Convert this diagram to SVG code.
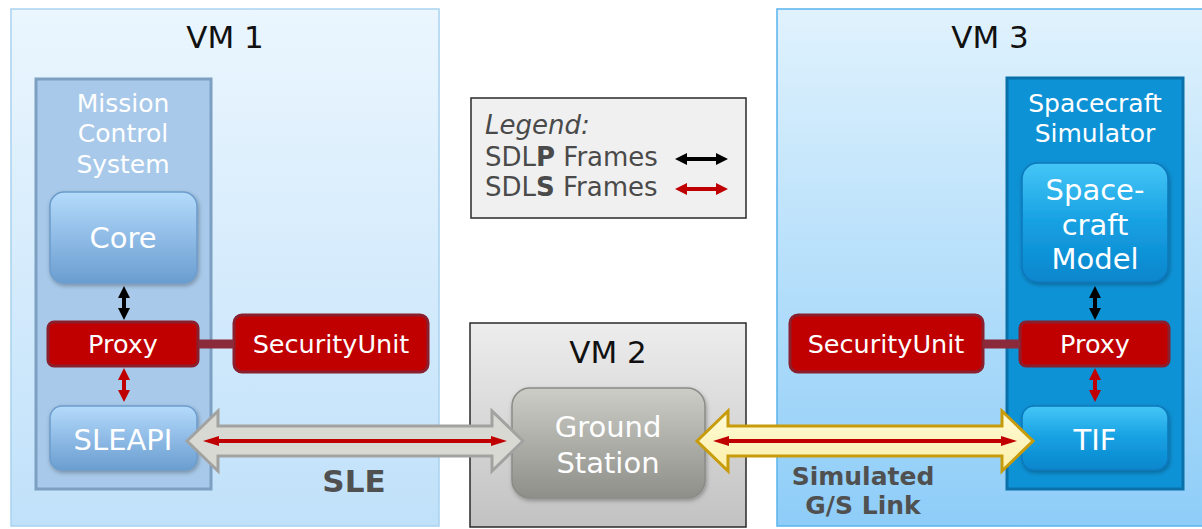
<svg xmlns="http://www.w3.org/2000/svg" width="1202" height="529" viewBox="0 0 1202 529">
  <defs>
    <linearGradient id="gVm1" x1="0" y1="0" x2="0" y2="1">
      <stop offset="0" stop-color="#ebf6fe"/>
      <stop offset="1" stop-color="#c0e1fa"/>
    </linearGradient>
    <linearGradient id="gVm3" x1="0" y1="0" x2="0" y2="1">
      <stop offset="0" stop-color="#e0f2fd"/>
      <stop offset="1" stop-color="#8ecdf8"/>
    </linearGradient>
    <linearGradient id="gVm2" x1="0" y1="0" x2="0" y2="1">
      <stop offset="0" stop-color="#ededed"/>
      <stop offset="1" stop-color="#c2c2c2"/>
    </linearGradient>
    <linearGradient id="gPale" x1="0" y1="0" x2="0" y2="1">
      <stop offset="0" stop-color="#b4dbfb"/>
      <stop offset="0.5" stop-color="#8fbbe6"/>
      <stop offset="1" stop-color="#6a9ed0"/>
    </linearGradient>
    <linearGradient id="gBright" x1="0" y1="0" x2="0" y2="1">
      <stop offset="0" stop-color="#45c6f7"/>
      <stop offset="0.5" stop-color="#16a0e2"/>
      <stop offset="1" stop-color="#0a86cd"/>
    </linearGradient>
    <linearGradient id="gGround" x1="0" y1="0" x2="0" y2="1">
      <stop offset="0" stop-color="#cdcdc8"/>
      <stop offset="1" stop-color="#8f8f8a"/>
    </linearGradient>
    <linearGradient id="gGold" x1="0" y1="0" x2="0" y2="1">
      <stop offset="0" stop-color="#fffbd8"/>
      <stop offset="1" stop-color="#fbefa8"/>
    </linearGradient>
    <filter id="shadow" x="-10%" y="-10%" width="125%" height="130%">
      <feDropShadow dx="1" dy="2" stdDeviation="2" flood-color="#000" flood-opacity="0.3"/>
    </filter>
    <marker id="headBlack" viewBox="0 0 12 12" markerWidth="12" markerHeight="12" refX="2" refY="6" orient="auto-start-reverse" markerUnits="userSpaceOnUse">
      <path d="M0,0 L12,6 L0,12 Z" fill="#000"/>
    </marker>
    <marker id="headRed" viewBox="0 0 12 12" markerWidth="12" markerHeight="12" refX="2" refY="6" orient="auto-start-reverse" markerUnits="userSpaceOnUse">
      <path d="M0,0 L12,6 L0,12 Z" fill="#c00000"/>
    </marker>
    <marker id="headRedLong" viewBox="0 0 16 10" markerWidth="16" markerHeight="10" refX="2" refY="5" orient="auto-start-reverse" markerUnits="userSpaceOnUse">
      <path d="M0,0 L16,5 L0,10 Z" fill="#c00000"/>
    </marker>
  </defs>
  <style>
    text { font-family: "DejaVu Sans", Verdana, sans-serif; text-anchor: middle; }
    .title { font-size: 31px; fill: #111; }
    .group { font-size: 25px; fill: #ffffff; }
    .node { font-size: 29px; fill: #ffffff; }
    .red { fill: #c00000; stroke: #8a1f2e; stroke-width: 3; }
    .redtext { font-size: 25.5px; fill: #ffffff; }
    .label { font-weight: bold; fill: #505050; }
    .legend { font-size: 26px; fill: #4a4a4a; text-anchor: start; }
    .pline { stroke: #000; stroke-width: 4; fill: none; }
    .sline { stroke: #c00000; stroke-width: 4; fill: none; }
    .link { stroke: #8a2a3a; stroke-width: 9; }
  </style>

  <!-- Virtual machine containers -->
  <g id="vm1">
    <rect x="11" y="9" width="428" height="517" fill="url(#gVm1)" stroke="#a9d2ef" stroke-width="1.5"/>
    <text class="title" x="225" y="48">VM 1</text>
  </g>
  <g id="vm3">
    <rect x="777" y="9" width="430" height="517" fill="url(#gVm3)" stroke="#58b4ec" stroke-width="1.5"/>
    <text class="title" x="990" y="48">VM 3</text>
  </g>
  <g id="vm2">
    <rect x="470" y="323" width="276" height="204" fill="url(#gVm2)" stroke="#2a2a2a" stroke-width="1.5"/>
    <text class="title" x="608" y="363">VM 2</text>
  </g>

  <!-- Legend -->
  <g id="legend">
    <rect x="471" y="98" width="275" height="120" fill="#f0f0f0" stroke="#2a2a2a" stroke-width="1.5"/>
    <text class="legend" x="485" y="134" font-style="italic" font-size="27">Legend:</text>
    <text class="legend" x="485" y="166">SDL<tspan font-weight="bold">P</tspan> Frames</text>
    <text class="legend" x="485" y="196">SDL<tspan font-weight="bold">S</tspan> Frames</text>
    <line class="pline" x1="685" y1="159" x2="718" y2="159" marker-start="url(#headBlack)" marker-end="url(#headBlack)"/>
    <line class="sline" x1="685" y1="189" x2="718" y2="189" marker-start="url(#headRed)" marker-end="url(#headRed)"/>
  </g>

  <!-- Mission Control System -->
  <g id="mission-control-system">
    <rect x="36" y="79" width="175" height="410" fill="#a8c9e9" stroke="#7d9fc2" stroke-width="3"/>
    <text class="group" x="123" y="112">Mission</text>
    <text class="group" x="123" y="142">Control</text>
    <text class="group" x="123" y="173">System</text>
  </g>
  <g id="core">
    <rect x="50" y="192" width="147" height="91" rx="14" fill="url(#gPale)" stroke="#6c9ccc" stroke-width="1.5" filter="url(#shadow)"/>
    <text class="node" x="123" y="248">Core</text>
  </g>
  <g id="proxy-mcs">
    <rect class="red" x="48" y="322" width="150" height="44" rx="6"/>
    <text class="redtext" x="123" y="353">Proxy</text>
  </g>
  <g id="sleapi">
    <rect x="50" y="406" width="147" height="64" rx="12" fill="url(#gPale)" stroke="#6c9ccc" stroke-width="1.5" filter="url(#shadow)"/>
    <text class="node" x="123" y="450">SLEAPI</text>
  </g>
  <g id="security-unit-mcs">
    <rect class="red" x="234" y="315" width="194" height="57" rx="8"/>
    <text class="redtext" x="331" y="353">SecurityUnit</text>
  </g>

  <!-- Ground segment -->
  <g id="ground-station">
    <rect x="512" y="388" width="193" height="110" rx="18" fill="url(#gGround)" stroke="#8a8a86" stroke-width="1.5" filter="url(#shadow)"/>
    <text class="node" x="608" y="437" fill="#f4f4f0">Ground</text>
    <text class="node" x="608" y="473" fill="#f4f4f0">Station</text>
  </g>

  <!-- Spacecraft Simulator -->
  <g id="spacecraft-simulator">
    <rect x="1007" y="78" width="176" height="411" fill="#0e92d6" stroke="#0a70aa" stroke-width="3"/>
    <text class="group" x="1095" y="112">Spacecraft</text>
    <text class="group" x="1095" y="142">Simulator</text>
  </g>
  <g id="spacecraft-model">
    <rect x="1022" y="163" width="146" height="119" rx="16" fill="url(#gBright)" stroke="#0a78bc" stroke-width="1.5" filter="url(#shadow)"/>
    <text class="node" x="1095" y="200">Space-</text>
    <text class="node" x="1095" y="235">craft</text>
    <text class="node" x="1095" y="269">Model</text>
  </g>
  <g id="proxy-sim">
    <rect class="red" x="1020" y="322" width="149" height="44" rx="6"/>
    <text class="redtext" x="1095" y="353">Proxy</text>
  </g>
  <g id="tif">
    <rect x="1022" y="406" width="146" height="64" rx="12" fill="url(#gBright)" stroke="#0a78bc" stroke-width="1.5" filter="url(#shadow)"/>
    <text class="node" x="1095" y="450">TIF</text>
  </g>
  <g id="security-unit-sim">
    <rect class="red" x="790" y="315" width="193" height="57" rx="8"/>
    <text class="redtext" x="886" y="353">SecurityUnit</text>
  </g>

  <!-- Connectors -->
  <g id="connectors">
    <line class="link" x1="199" y1="344" x2="234" y2="344"/>
    <line class="link" x1="983" y1="344" x2="1020" y2="344"/>

    <line class="pline" x1="124" y1="296" x2="124" y2="310" marker-start="url(#headBlack)" marker-end="url(#headBlack)"/>
    <line class="sline" x1="124" y1="378" x2="124" y2="392" marker-start="url(#headRed)" marker-end="url(#headRed)"/>
    <line class="pline" x1="1095" y1="296" x2="1095" y2="310" marker-start="url(#headBlack)" marker-end="url(#headBlack)"/>
    <line class="sline" x1="1095" y1="378" x2="1095" y2="392" marker-start="url(#headRed)" marker-end="url(#headRed)"/>

    <!-- SLE link between SLEAPI and Ground Station -->
    <path d="M187,441 L218,411 L218,426 L492,426 L492,411 L523,441 L492,471 L492,456 L218,456 L218,471 Z"
          fill="#d9d9d3" stroke="#a2a2a0" stroke-width="3" stroke-linejoin="miter"/>
    <line class="sline" x1="217" y1="441" x2="493" y2="441" stroke-width="3.5" marker-start="url(#headRedLong)" marker-end="url(#headRedLong)"/>

    <!-- Simulated ground/space link between Ground Station and TIF -->
    <path d="M697,441 L728,411 L728,426 L1002,426 L1002,411 L1033,441 L1002,471 L1002,456 L728,456 L728,471 Z"
          fill="url(#gGold)" stroke="#c79b0a" stroke-width="3" stroke-linejoin="miter"/>
    <line class="sline" x1="727" y1="441" x2="1003" y2="441" stroke-width="3.5" marker-start="url(#headRedLong)" marker-end="url(#headRedLong)"/>

    <text class="label" x="354" y="492" font-size="31">SLE</text>
    <text class="label" x="863" y="485" font-size="25">Simulated</text>
    <text class="label" x="863" y="514" font-size="25">G/S Link</text>
  </g>
</svg>
